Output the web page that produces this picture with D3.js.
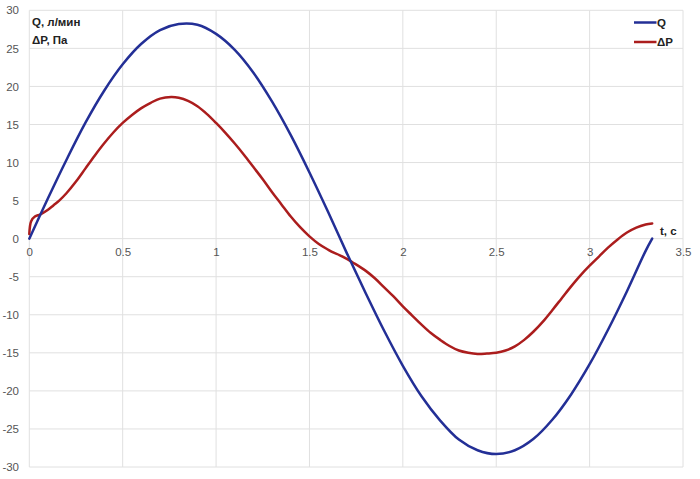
<!DOCTYPE html>
<html>
<head>
<meta charset="utf-8">
<script src="https://cdn.jsdelivr.net/npm/d3@7"></script>
<style>
  html, body { margin: 0; padding: 0; background: #fff; }
  svg { display: block; }
  text { font-family: "Liberation Sans", Arial, sans-serif; }
</style>
</head>
<body>
<svg id="chart" width="700" height="479"></svg>
<script>
// ---- data ----
const xTicks = [0, 0.5, 1, 1.5, 2, 2.5, 3, 3.5];
const yTicks = [-30, -25, -20, -15, -10, -5, 0, 5, 10, 15, 20, 25, 30];

const tQ = [0, 0.1, 0.2, 0.3, 0.4, 0.5, 0.6, 0.7, 0.8, 0.9, 1.0, 1.1, 1.2, 1.3, 1.4, 1.5, 1.6,
            1.7, 1.8, 1.9, 2.0, 2.1, 2.2, 2.3, 2.4, 2.5, 2.6, 2.7, 2.8, 2.9, 3.0, 3.1, 3.2, 3.3, 3.335];
const qVals = [0, 5.3, 10.4, 15.2, 19.4, 22.9, 25.6, 27.4, 28.2, 28.1, 26.9, 24.8, 21.8, 18.0, 13.6, 8.7, 3.5,
               -1.9, -7.1, -12.1, -16.7, -20.7, -23.9, -26.4, -27.8, -28.3, -27.8, -26.3, -23.8, -20.5, -16.5, -11.9, -6.9, -1.6, 0];

const tP = [0, 0.01, 0.03, 0.06, 0.1, 0.13, 0.16, 0.2, 0.25, 0.3, 0.35, 0.4, 0.45, 0.5, 0.55, 0.6, 0.65, 0.7, 0.76,
            0.8, 0.85, 0.9, 0.95, 1.0, 1.05, 1.1, 1.15, 1.2, 1.25, 1.3, 1.35, 1.4, 1.45, 1.5, 1.55, 1.6, 1.63, 1.66,
            1.7, 1.73, 1.8, 1.85, 1.9, 1.95, 2.0, 2.05, 2.1, 2.15, 2.2, 2.25, 2.3, 2.35, 2.4, 2.45, 2.5, 2.55, 2.6,
            2.65, 2.7, 2.75, 2.8, 2.85, 2.9, 2.95, 3.0, 3.05, 3.1, 3.15, 3.2, 3.25, 3.3, 3.335];
const pVals = [0.6, 2.3, 2.9, 3.2, 3.8, 4.4, 5.0, 6.0, 7.5, 9.2, 10.9, 12.5, 13.95, 15.2, 16.25, 17.15, 17.85, 18.4, 18.6,
               18.5, 18.1, 17.4, 16.4, 15.2, 13.9, 12.5, 11.0, 9.4, 7.8, 6.1, 4.5, 2.9, 1.5, 0.3, -0.7, -1.45, -1.85, -2.15,
               -2.65, -3.1, -4.2, -5.2, -6.4, -7.6, -8.9, -10.1, -11.3, -12.4, -13.3, -14.1, -14.7, -15.0, -15.15, -15.1, -15.0, -14.7, -14.15,
               -13.3, -12.2, -10.9, -9.4, -7.85, -6.3, -4.85, -3.55, -2.35, -1.15, -0.1, 0.8, 1.45, 1.85, 2.0];

const seriesNames = ["Q", "ΔP"];
const seriesColors = ["#232f96", "#ab1d1d"];
const yTitle = ["Q, л/мин", "ΔP, Па"];
const xTitle = "t, c";

// ---- layout ----
const svg = d3.select("#chart");
const plotL = 29.3, plotR = 683, plotT = 10.3, plotB = 467;

const x = d3.scaleLinear().domain([0, 3.5]).range([plotL, plotR]);
const y = d3.scaleLinear().domain([-30, 30]).range([plotB, plotT]);

const fmt = d => String(d);

// grid
const grid = svg.append("g");
grid.selectAll("line.h").data(yTicks).join("line")
  .attr("class", "h")
  .attr("x1", plotL).attr("x2", plotR)
  .attr("y1", d => y(d)).attr("y2", d => y(d))
  .attr("stroke", "#e0e0e0").attr("stroke-width", 1);
grid.selectAll("line.v").data(xTicks).join("line")
  .attr("class", "v")
  .attr("y1", plotT).attr("y2", plotB)
  .attr("x1", d => x(d)).attr("x2", d => x(d))
  .attr("stroke", "#e0e0e0").attr("stroke-width", 1);

// y axis labels
const yAxis = d3.axisLeft(y).tickValues(yTicks).tickSize(0).tickPadding(0).tickFormat(fmt);
const gy = svg.append("g").attr("transform", "translate(19,0)").call(yAxis);
gy.select(".domain").remove();
gy.selectAll("text").attr("font-size", 11.5).attr("fill", "#555").attr("font-family", "Liberation Sans, Arial, sans-serif");

// x axis labels at zero line
const xAxis = d3.axisBottom(x).tickValues(xTicks).tickSize(0).tickPadding(0).tickFormat(fmt);
const gx = svg.append("g").attr("transform", `translate(0,${y(0) + 9})`).call(xAxis);
gx.select(".domain").remove();
gx.selectAll("text").attr("font-size", 11.5).attr("fill", "#555").attr("font-family", "Liberation Sans, Arial, sans-serif");

// lines
const line = d3.line().x(d => x(d[0])).y(d => y(d[1])).curve(d3.curveCatmullRom.alpha(0.5));
const qData = tQ.map((t, i) => [t, qVals[i]]);
const pData = tP.map((t, i) => [t, pVals[i]]);

svg.append("path").datum(pData).attr("d", line)
  .attr("fill", "none").attr("stroke", seriesColors[1]).attr("stroke-width", 2.5)
  .attr("stroke-linejoin", "round").attr("stroke-linecap", "round");
svg.append("path").datum(qData).attr("d", line)
  .attr("fill", "none").attr("stroke", seriesColors[0]).attr("stroke-width", 2.5)
  .attr("stroke-linejoin", "round").attr("stroke-linecap", "round");

// titles
svg.selectAll("text.ytitle").data(yTitle).join("text")
  .attr("class", "ytitle")
  .attr("x", 32).attr("y", (d, i) => 26 + i * 17.5)
  .attr("font-size", 11.5).attr("font-weight", "bold").attr("fill", "#222")
  .text(d => d);

svg.append("text").attr("x", 660).attr("y", 235)
  .attr("font-size", 11.5).attr("font-weight", "bold").attr("fill", "#222")
  .text(xTitle);

// legend
const lg = svg.append("g");
seriesNames.forEach((name, i) => {
  const yy = 22.5 + i * 19.5;
  lg.append("line").attr("x1", 634).attr("x2", 656.5).attr("y1", yy).attr("y2", yy)
    .attr("stroke", seriesColors[i]).attr("stroke-width", 2.5);
  lg.append("text").attr("x", 657).attr("y", yy + 4)
    .attr("font-size", 11.5).attr("font-weight", "bold").attr("fill", "#222").text(name);
});
</script>
</body>
</html>
